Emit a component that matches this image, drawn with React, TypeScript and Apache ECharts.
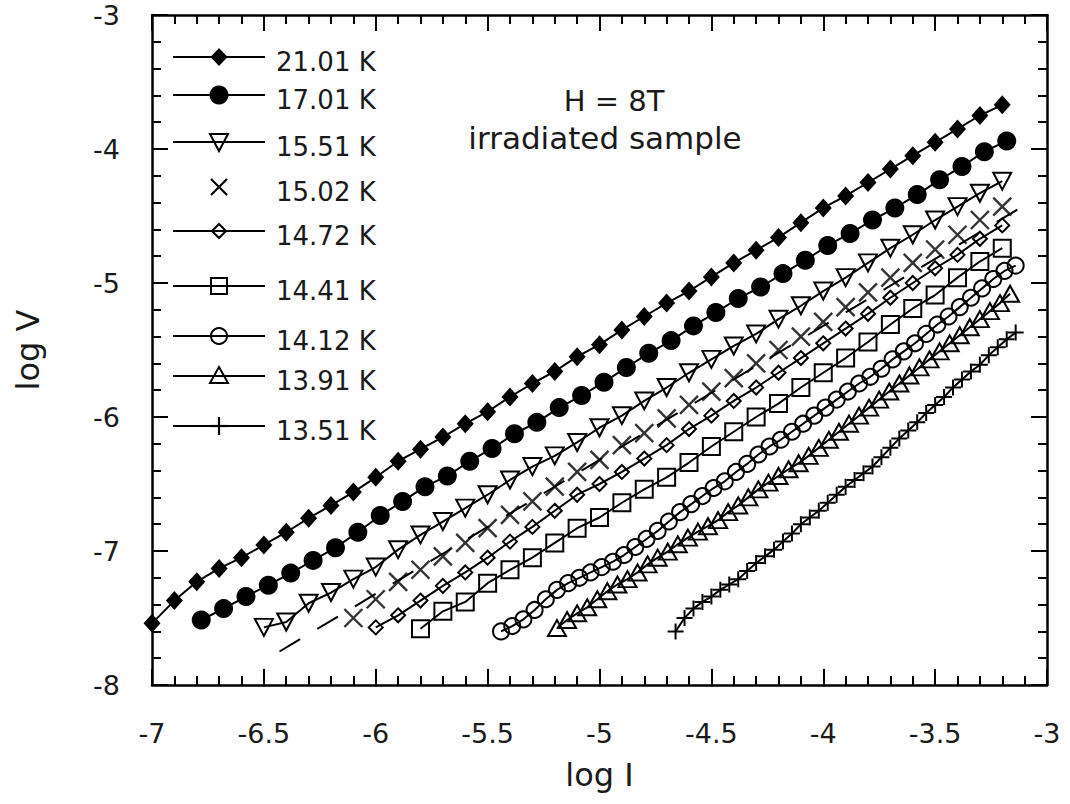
import React, { useEffect, useRef } from "react";
import * as echarts from "echarts";

// ---------- data ----------
const seriesNames = ["21.01 K", "17.01 K", "15.51 K", "15.02 K", "14.72 K", "14.41 K", "14.12 K", "13.91 K", "13.51 K"];

const logI_2101 = [-7.0, -6.9, -6.8, -6.7, -6.6, -6.5, -6.4, -6.3, -6.2, -6.1, -6.0, -5.9, -5.8, -5.7, -5.6, -5.5, -5.4, -5.3, -5.2, -5.1, -5.0, -4.9, -4.8, -4.7, -4.6, -4.5, -4.4, -4.3, -4.2, -4.1, -4.0, -3.9, -3.8, -3.7, -3.6, -3.5, -3.4, -3.3, -3.2];
const logV_2101 = [-7.54, -7.37, -7.23, -7.13, -7.05, -6.955, -6.86, -6.755, -6.66, -6.56, -6.45, -6.33, -6.24, -6.15, -6.05, -5.96, -5.85, -5.75, -5.66, -5.55, -5.46, -5.35, -5.25, -5.15, -5.06, -4.955, -4.85, -4.755, -4.66, -4.55, -4.44, -4.35, -4.25, -4.15, -4.05, -3.95, -3.85, -3.75, -3.67];

const logI_1701 = [-6.78, -6.68, -6.58, -6.48, -6.38, -6.28, -6.18, -6.08, -5.98, -5.88, -5.78, -5.68, -5.58, -5.48, -5.38, -5.28, -5.18, -5.08, -4.98, -4.88, -4.78, -4.68, -4.58, -4.48, -4.38, -4.28, -4.18, -4.08, -3.98, -3.88, -3.78, -3.68, -3.58, -3.48, -3.38, -3.28, -3.18];
const logV_1701 = [-7.515, -7.43, -7.34, -7.255, -7.165, -7.07, -6.975, -6.86, -6.735, -6.63, -6.52, -6.44, -6.33, -6.235, -6.125, -6.04, -5.93, -5.84, -5.74, -5.63, -5.525, -5.43, -5.32, -5.22, -5.115, -5.03, -4.93, -4.83, -4.72, -4.63, -4.53, -4.44, -4.34, -4.23, -4.13, -4.02, -3.94];

const logI_1551 = [-6.5, -6.4, -6.3, -6.2, -6.1, -6.0, -5.9, -5.8, -5.7, -5.6, -5.5, -5.4, -5.3, -5.2, -5.1, -5.0, -4.9, -4.8, -4.7, -4.6, -4.5, -4.4, -4.3, -4.2, -4.1, -4.0, -3.9, -3.8, -3.7, -3.6, -3.5, -3.4, -3.3, -3.2];
const logV_1551 = [-7.57, -7.53, -7.39, -7.31, -7.21, -7.12, -6.99, -6.88, -6.78, -6.68, -6.58, -6.47, -6.37, -6.29, -6.19, -6.08, -5.99, -5.88, -5.78, -5.67, -5.57, -5.47, -5.38, -5.27, -5.17, -5.06, -4.96, -4.85, -4.74, -4.64, -4.53, -4.43, -4.33, -4.24];

const logI_1502 = [-6.1, -6.0, -5.9, -5.8, -5.7, -5.6, -5.5, -5.4, -5.3, -5.2, -5.1, -5.0, -4.9, -4.8, -4.7, -4.6, -4.5, -4.4, -4.3, -4.2, -4.1, -4.0, -3.9, -3.8, -3.7, -3.6, -3.5, -3.4, -3.3, -3.2];
const logV_1502 = [-7.5, -7.36, -7.23, -7.14, -7.04, -6.94, -6.83, -6.73, -6.63, -6.52, -6.41, -6.32, -6.21, -6.12, -6.01, -5.91, -5.81, -5.71, -5.6, -5.5, -5.4, -5.29, -5.18, -5.07, -4.96, -4.85, -4.75, -4.64, -4.53, -4.43];
const fitI_1502 = [-6.43, -3.1];
const fitV_1502 = [-7.75, -4.42];

const logI_1472 = [-6.0, -5.9, -5.8, -5.7, -5.6, -5.5, -5.4, -5.3, -5.2, -5.1, -5.0, -4.9, -4.8, -4.7, -4.6, -4.5, -4.4, -4.3, -4.2, -4.1, -4.0, -3.9, -3.8, -3.7, -3.6, -3.5, -3.4, -3.3, -3.2];
const logV_1472 = [-7.57, -7.48, -7.37, -7.26, -7.16, -7.05, -6.93, -6.82, -6.7, -6.58, -6.5, -6.41, -6.31, -6.21, -6.09, -5.99, -5.88, -5.78, -5.67, -5.56, -5.45, -5.34, -5.23, -5.11, -5.0, -4.89, -4.79, -4.67, -4.57];

const logI_1441 = [-5.8, -5.7, -5.6, -5.5, -5.4, -5.3, -5.2, -5.1, -5.0, -4.9, -4.8, -4.7, -4.6, -4.5, -4.4, -4.3, -4.2, -4.1, -4.0, -3.9, -3.8, -3.7, -3.6, -3.5, -3.4, -3.3, -3.2];
const logV_1441 = [-7.58, -7.45, -7.38, -7.24, -7.14, -7.05, -6.94, -6.83, -6.75, -6.64, -6.54, -6.45, -6.34, -6.22, -6.11, -6.0, -5.9, -5.78, -5.67, -5.56, -5.44, -5.31, -5.19, -5.09, -4.96, -4.84, -4.74];

const logI_1412 = [-5.44, -5.39, -5.34, -5.29, -5.24, -5.19, -5.14, -5.09, -5.04, -4.99, -4.94, -4.89, -4.84, -4.79, -4.74, -4.69, -4.64, -4.59, -4.54, -4.49, -4.44, -4.39, -4.34, -4.29, -4.24, -4.19, -4.14, -4.09, -4.04, -3.99, -3.94, -3.89, -3.84, -3.79, -3.74, -3.69, -3.64, -3.59, -3.54, -3.49, -3.44, -3.39, -3.34, -3.29, -3.24, -3.19, -3.14];
const logV_1412 = [-7.6, -7.56, -7.51, -7.44, -7.36, -7.29, -7.24, -7.2, -7.16, -7.12, -7.08, -7.03, -6.97, -6.91, -6.85, -6.78, -6.71, -6.65, -6.59, -6.53, -6.48, -6.41, -6.35, -6.28, -6.22, -6.17, -6.11, -6.05, -5.99, -5.93, -5.87, -5.81, -5.75, -5.7, -5.64, -5.57, -5.51, -5.45, -5.38, -5.31, -5.25, -5.18, -5.11, -5.04, -4.97, -4.91, -4.87];

const logI_1391 = [-5.19, -5.145, -5.1, -5.055, -5.01, -4.965, -4.92, -4.875, -4.83, -4.785, -4.74, -4.695, -4.65, -4.605, -4.56, -4.515, -4.47, -4.425, -4.38, -4.335, -4.29, -4.245, -4.2, -4.155, -4.11, -4.065, -4.02, -3.975, -3.93, -3.885, -3.84, -3.795, -3.75, -3.705, -3.66, -3.615, -3.57, -3.525, -3.48, -3.435, -3.39, -3.345, -3.3, -3.255, -3.21, -3.165];
const logV_1391 = [-7.575, -7.515, -7.465, -7.42, -7.36, -7.3, -7.25, -7.21, -7.16, -7.1, -7.05, -7.005, -6.95, -6.9, -6.855, -6.815, -6.77, -6.71, -6.66, -6.6, -6.54, -6.49, -6.44, -6.39, -6.345, -6.29, -6.23, -6.17, -6.11, -6.05, -5.99, -5.93, -5.87, -5.81, -5.75, -5.69, -5.63, -5.57, -5.51, -5.45, -5.39, -5.33, -5.27, -5.21, -5.15, -5.08];

const logI_1351 = [-4.66, -4.62, -4.58, -4.54, -4.5, -4.46, -4.42, -4.38, -4.34, -4.3, -4.26, -4.22, -4.18, -4.14, -4.1, -4.06, -4.02, -3.98, -3.94, -3.9, -3.86, -3.82, -3.78, -3.74, -3.7, -3.66, -3.62, -3.58, -3.54, -3.5, -3.46, -3.42, -3.38, -3.34, -3.3, -3.26, -3.22, -3.18, -3.14];
const logV_1351 = [-7.6, -7.5, -7.43, -7.38, -7.34, -7.29, -7.25, -7.21, -7.15, -7.09, -7.04, -6.99, -6.93, -6.87, -6.8, -6.75, -6.7, -6.64, -6.58, -6.52, -6.47, -6.42, -6.37, -6.3, -6.23, -6.16, -6.1, -6.04, -5.97, -5.91, -5.85, -5.78, -5.72, -5.66, -5.61, -5.54, -5.48, -5.42, -5.37];

const annotationLines = ["H = 8T", "irradiated sample"];
const xAxisTitle = "log I";
const yAxisTitle = "log V";

// ---------- helpers ----------
const FONT = '"DejaVu Sans", "Liberation Sans", sans-serif';
const TXT = "#1a1a1a";
const zip = (xs: number[], ys: number[]) => xs.map((x, i) => [x, ys[i]]);

const X_PATH = "path://M0,0L10,10M10,0L0,10";
const PLUS_PATH = "path://M5,0L5,10M0,5L10,5";

const hollow = { color: "transparent", borderColor: "#000", borderWidth: 2 };
const lineSt = { color: "#000", width: 2 };

function legendMarker(kind: string, cx: number, cy: number): any[] {
  const st = { fill: "none", stroke: "#000", lineWidth: 2 };
  const ln = { stroke: "#000", lineWidth: 2.2 };
  switch (kind) {
    case "fdiamond":
      return [{ type: "polygon", shape: { points: [[cx, cy - 9], [cx + 8.5, cy], [cx, cy + 9], [cx - 8.5, cy]] }, style: { fill: "#000" } }];
    case "fcircle":
      return [{ type: "circle", shape: { cx, cy, r: 9.5 }, style: { fill: "#000" } }];
    case "tridown":
      return [{ type: "polygon", shape: { points: [[cx - 9, cy - 8], [cx + 9, cy - 8], [cx, cy + 9]] }, style: st }];
    case "x":
      return [
        { type: "line", shape: { x1: cx - 8, y1: cy - 8, x2: cx + 8, y2: cy + 8 }, style: ln },
        { type: "line", shape: { x1: cx + 8, y1: cy - 8, x2: cx - 8, y2: cy + 8 }, style: ln },
      ];
    case "odiamond":
      return [{ type: "polygon", shape: { points: [[cx, cy - 7], [cx + 7, cy], [cx, cy + 7], [cx - 7, cy]] }, style: st }];
    case "square":
      return [{ type: "rect", shape: { x: cx - 8, y: cy - 8, width: 16, height: 16 }, style: st }];
    case "ocircle":
      return [{ type: "circle", shape: { cx, cy, r: 8 }, style: st }];
    case "triup":
      return [{ type: "polygon", shape: { points: [[cx, cy - 9], [cx + 9, cy + 7], [cx - 9, cy + 7]] }, style: st }];
    case "plus":
      return [
        { type: "line", shape: { x1: cx, y1: cy - 9, x2: cx, y2: cy + 9 }, style: ln },
        { type: "line", shape: { x1: cx - 9, y1: cy, x2: cx + 9, y2: cy }, style: ln },
      ];
  }
  return [];
}

export default function App() {
  const ref = useRef<HTMLDivElement>(null);

  useEffect(() => {
    document.body.style.margin = "0";
    const chart = echarts.init(ref.current!, null, { renderer: "svg" });

    const axisCommon: any = {
      type: "value",
      axisLine: { show: true, onZero: false, lineStyle: { color: "#000", width: 2.5 } },
      axisTick: { show: true, inside: true, length: 16, lineStyle: { color: "#000", width: 2 } },
      minorTick: { show: true, splitNumber: 5, length: 9, lineStyle: { color: "#000", width: 2 } },
      splitLine: { show: false },
      minorSplitLine: { show: false },
    };
    const labelStyle = { fontSize: 27, color: TXT, fontFamily: FONT };

    const kinds = ["fdiamond", "fcircle", "tridown", "x", "odiamond", "square", "ocircle", "triup", "plus"];
    const legendY = [57, 95, 142, 187, 231, 286, 336, 376, 426];
    const graphics: any[] = [];
    seriesNames.forEach((name, i) => {
      const y = legendY[i];
      if (kinds[i] !== "x") {
        graphics.push({ type: "line", shape: { x1: 173, y1: y, x2: 265, y2: y }, style: { stroke: "#000", lineWidth: 2 } });
      }
      legendMarker(kinds[i], 219, y).forEach((g) => graphics.push(g));
      graphics.push({
        type: "text",
        x: 276,
        y: y + 5,
        style: { text: name, font: `26px ${FONT}`, fill: TXT, textAlign: "left", align: "left", textVerticalAlign: "middle", verticalAlign: "middle" },
      });
    });
    graphics.push({
      type: "text", x: 614, y: 101,
      style: { text: annotationLines[0], font: `29px ${FONT}`, fill: TXT, textAlign: "center", align: "center", textVerticalAlign: "middle", verticalAlign: "middle" },
    });
    graphics.push({
      type: "text", x: 605, y: 138,
      style: { text: annotationLines[1], font: `31px ${FONT}`, fill: TXT, textAlign: "center", align: "center", textVerticalAlign: "middle", verticalAlign: "middle" },
    });

    const option: any = {
      animation: false,
      backgroundColor: "#fff",
      grid: { left: 152, top: 15, width: 895, height: 670, containLabel: false },
      xAxis: [
        {
          ...axisCommon, position: "bottom", min: -7, max: -3, interval: 0.5,
          axisLabel: { ...labelStyle, margin: 35 },
          name: xAxisTitle, nameLocation: "middle", nameGap: 74,
          nameTextStyle: { fontSize: 32, color: TXT, fontFamily: FONT },
        },
        { ...axisCommon, position: "top", min: -7, max: -3, interval: 0.5, axisLabel: { show: false } },
      ],
      yAxis: [
        {
          ...axisCommon, position: "left", min: -8, max: -3, interval: 1,
          axisLabel: { ...labelStyle, margin: 32 },
          name: yAxisTitle, nameLocation: "middle", nameGap: 108,
          nameTextStyle: { fontSize: 32, color: TXT, fontFamily: FONT },
        },
        { ...axisCommon, position: "right", min: -8, max: -3, interval: 1, axisLabel: { show: false } },
      ],
      graphic: graphics,
      series: [
        { name: seriesNames[8], type: "line", data: zip(logI_1351, logV_1351), symbol: PLUS_PATH, symbolSize: 16, itemStyle: hollow, lineStyle: lineSt },
        { name: seriesNames[7], type: "line", data: zip(logI_1391, logV_1391), symbol: "triangle", symbolSize: [18, 16], itemStyle: hollow, lineStyle: lineSt },
        { name: seriesNames[6], type: "line", data: zip(logI_1412, logV_1412), symbol: "circle", symbolSize: 16, itemStyle: hollow, lineStyle: lineSt },
        { name: seriesNames[5], type: "line", data: zip(logI_1441, logV_1441), symbol: "rect", symbolSize: 17, itemStyle: hollow, lineStyle: lineSt },
        { name: seriesNames[4], type: "line", data: zip(logI_1472, logV_1472), symbol: "diamond", symbolSize: 14, itemStyle: hollow, lineStyle: lineSt },
        { name: "fit", type: "line", data: zip(fitI_1502, fitV_1502), symbol: "none", lineStyle: { color: "#000", width: 2, type: [24, 20] } },
        { name: seriesNames[3], type: "scatter", data: zip(logI_1502, logV_1502), symbol: X_PATH, symbolSize: 18, itemStyle: { ...hollow, borderWidth: 2.4 } },
        { name: seriesNames[2], type: "line", data: zip(logI_1551, logV_1551), symbol: "triangle", symbolRotate: 180, symbolSize: [18, 17], itemStyle: hollow, lineStyle: lineSt },
        { name: seriesNames[1], type: "line", data: zip(logI_1701, logV_1701), symbol: "circle", symbolSize: 19, itemStyle: { color: "#000" }, lineStyle: lineSt },
        { name: seriesNames[0], type: "line", data: zip(logI_2101, logV_2101), symbol: "diamond", symbolSize: [17, 19], itemStyle: { color: "#000" }, lineStyle: lineSt },
      ].map((s: any) => ({ ...s, clip: false, silent: true, showAllSymbol: true, xAxisIndex: 0, yAxisIndex: 0 })),
    };

    chart.setOption(option);
    return () => chart.dispose();
  }, []);

  return <div ref={ref} style={{ width: 1070, height: 804 }} />;
}
